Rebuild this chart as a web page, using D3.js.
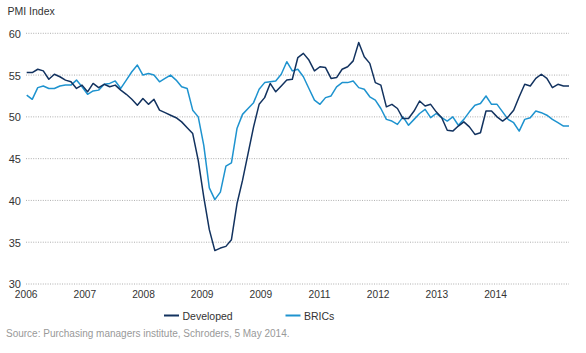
<!DOCTYPE html>
<html>
<head>
<meta charset="utf-8">
<script src="https://cdn.jsdelivr.net/npm/d3@7"></script>
<style>
  body { margin: 0; background: #fff; }
  svg text { font-family: "Liberation Sans", Arial, sans-serif; }
</style>
</head>
<body>
<svg id="chart" width="586" height="353"></svg>
<script>
// monthly PMI, Jan 2006 - Mar 2014
var developed = [55.3,55.3,55.7,55.5,54.5,55.1,54.8,54.4,54.2,53.4,53.8,53.0,54.0,53.5,53.9,53.6,53.8,53.2,52.7,52.1,
  51.4,52.2,51.5,52.1,50.8,50.5,50.2,49.9,49.4,48.7,48.0,44.8,40.4,36.5,34.0,34.3,34.5,35.3,39.6,42.4,
  45.6,48.8,51.5,52.3,54.0,53.0,53.7,54.4,54.5,57.1,57.6,56.8,55.5,56.0,55.9,54.6,54.7,55.7,56.0,56.7,
  58.9,57.2,56.4,54.1,53.8,51.2,51.5,51.0,49.8,49.8,50.7,51.9,51.3,51.5,50.6,49.9,48.4,48.3,48.9,49.4,
  48.8,47.9,48.1,50.7,50.7,50.0,49.5,50.0,50.8,52.4,53.9,53.7,54.6,55.1,54.6,53.5,53.9,53.7,53.7];
var brics = [52.6,52.1,53.5,53.7,53.4,53.4,53.7,53.8,53.8,54.4,53.6,52.7,53.1,53.2,53.9,54.0,54.3,53.4,54.4,55.4,
  56.2,55.0,55.2,55.0,54.2,54.6,55.0,54.4,53.6,53.4,50.8,50.0,46.6,41.5,40.1,41.0,44.1,44.5,48.6,50.3,
  51.0,51.7,53.3,54.1,54.2,54.3,55.1,56.6,55.5,55.7,54.8,53.4,52.0,51.5,52.3,52.5,53.6,54.1,54.1,54.3,
  53.5,53.3,52.4,52.0,51.0,49.7,49.5,49.1,50.0,49.0,49.7,50.4,50.9,49.9,50.4,49.9,49.5,50.0,49.0,49.7,
  50.6,51.4,51.6,52.5,51.5,51.5,50.6,49.7,49.3,48.3,49.7,49.9,50.7,50.5,50.2,49.7,49.3,48.9,48.9];
var yearLabels = ["2006","2007","2008","2009","2009","2011","2012","2013","2014"];
var yTicks = [30,35,40,45,50,55,60];

var svg = d3.select("#chart");

var x = d3.scaleLinear().domain([0, developed.length - 1]).range([26.7, 569]);
var y = d3.scaleLinear().domain([30, 60]).range([284, 33.3]);
var xLab = d3.scalePoint().domain(d3.range(yearLabels.length)).range([25.7, 495]);

// dotted grid
svg.append("g").selectAll("line")
  .data(yTicks)
  .enter().append("line")
  .attr("x1", 26).attr("x2", 569)
  .attr("y1", function(d){ return y(d); })
  .attr("y2", function(d){ return y(d); })
  .attr("stroke", "#9a9a9a")
  .attr("stroke-width", 0.8)
  .attr("stroke-dasharray", "1,1.4");

// y axis labels
var yAxis = svg.append("g").attr("transform", "translate(21,0)")
  .call(d3.axisLeft(y).tickValues(yTicks).tickSize(0).tickPadding(0));
yAxis.select(".domain").remove();
yAxis.selectAll("text").attr("font-size", 11).attr("fill", "#333").attr("dy", "0.36em");

// x axis labels
var xAxis = svg.append("g").attr("transform", "translate(0,291)")
  .call(d3.axisBottom(xLab).tickSize(0).tickPadding(0).tickFormat(function(i){ return yearLabels[i]; }));
xAxis.select(".domain").remove();
xAxis.selectAll("text").attr("font-size", 10.2).attr("fill", "#333");

svg.append("text").attr("x", 7.5).attr("y", 15)
  .attr("font-size", 10.5).attr("fill", "#333").text("PMI Index");

var line = d3.line()
  .x(function(d, i){ return x(i); })
  .y(function(d){ return y(d); });

svg.append("path").datum(brics)
  .attr("d", line).attr("fill", "none")
  .attr("stroke", "#1e93cf").attr("stroke-width", 1.5)
  .attr("stroke-linejoin", "round");

svg.append("path").datum(developed)
  .attr("d", line).attr("fill", "none")
  .attr("stroke", "#12325f").attr("stroke-width", 1.5)
  .attr("stroke-linejoin", "round");

// legend
var legend = [
  {name: "Developed", color: "#12325f", x: 164},
  {name: "BRICs", color: "#1e93cf", x: 285.5}
];
var lg = svg.append("g").selectAll("g").data(legend).enter().append("g");
lg.append("line")
  .attr("x1", function(d){ return d.x; }).attr("x2", function(d){ return d.x + 15; })
  .attr("y1", 315.5).attr("y2", 315.5)
  .attr("stroke", function(d){ return d.color; }).attr("stroke-width", 2);
lg.append("text")
  .attr("x", function(d){ return d.x + 18.5; }).attr("y", 319.5)
  .attr("font-size", 10.5).attr("fill", "#333")
  .text(function(d){ return d.name; });

svg.append("text").attr("x", 6).attr("y", 337)
  .attr("font-size", 10).attr("fill", "#999")
  .text("Source: Purchasing managers institute, Schroders, 5 May 2014.");
</script>
</body>
</html>
